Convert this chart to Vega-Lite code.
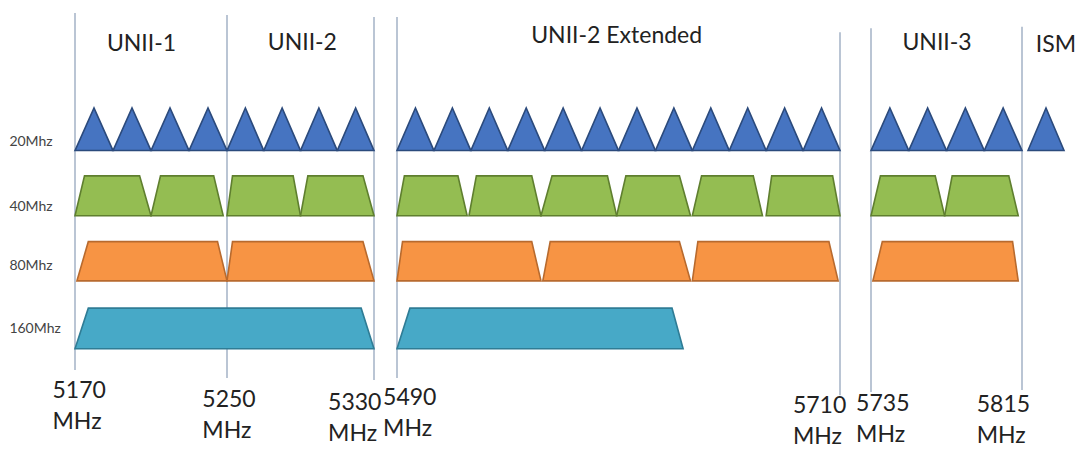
{
  "$schema": "https://vega.github.io/schema/vega-lite/v6.json",
  "width": 1082,
  "height": 449,
  "autosize": {"type": "none"},
  "padding": 0,
  "background": "white",
  "config": {"view": {"stroke": null}, "font": "Lato"},
  "datasets": {
    "lines": [
      {"f": 5170, "y": -1.43, "y2": 3.94},
      {"f": 5250, "y": -1.40, "y2": 4.06},
      {"f": 5330, "y": -1.37, "y2": 4.09},
      {"f": 5490, "y": -1.37, "y2": 4.06},
      {"f": 5730, "y": -1.14, "y2": 4.32},
      {"f": 5735, "y": -1.20, "y2": 4.27},
      {"f": 5815, "y": -1.22, "y2": 4.24}
    ],
    "levels": [
      {"band": "20Mhz", "base": 0.64},
      {"band": "40Mhz", "base": 1.62},
      {"band": "80Mhz", "base": 2.6},
      {"band": "160Mhz", "base": 3.62}
    ],
    "shapes": [
      {"id": "c36", "band": "20Mhz", "f": 5170, "y": 0.64}, {"id": "c36", "band": "20Mhz", "f": 5180, "y": 0}, {"id": "c36", "band": "20Mhz", "f": 5190, "y": 0.64},
      {"id": "c40", "band": "20Mhz", "f": 5190, "y": 0.64}, {"id": "c40", "band": "20Mhz", "f": 5200, "y": 0}, {"id": "c40", "band": "20Mhz", "f": 5210, "y": 0.64},
      {"id": "c44", "band": "20Mhz", "f": 5210, "y": 0.64}, {"id": "c44", "band": "20Mhz", "f": 5220, "y": 0}, {"id": "c44", "band": "20Mhz", "f": 5230, "y": 0.64},
      {"id": "c48", "band": "20Mhz", "f": 5230, "y": 0.64}, {"id": "c48", "band": "20Mhz", "f": 5240, "y": 0}, {"id": "c48", "band": "20Mhz", "f": 5250, "y": 0.64},
      {"id": "c52", "band": "20Mhz", "f": 5250, "y": 0.64}, {"id": "c52", "band": "20Mhz", "f": 5260, "y": 0}, {"id": "c52", "band": "20Mhz", "f": 5270, "y": 0.64},
      {"id": "c56", "band": "20Mhz", "f": 5270, "y": 0.64}, {"id": "c56", "band": "20Mhz", "f": 5280, "y": 0}, {"id": "c56", "band": "20Mhz", "f": 5290, "y": 0.64},
      {"id": "c60", "band": "20Mhz", "f": 5290, "y": 0.64}, {"id": "c60", "band": "20Mhz", "f": 5300, "y": 0}, {"id": "c60", "band": "20Mhz", "f": 5310, "y": 0.64},
      {"id": "c64", "band": "20Mhz", "f": 5310, "y": 0.64}, {"id": "c64", "band": "20Mhz", "f": 5320, "y": 0}, {"id": "c64", "band": "20Mhz", "f": 5330, "y": 0.64},
      {"id": "c100", "band": "20Mhz", "f": 5490, "y": 0.64}, {"id": "c100", "band": "20Mhz", "f": 5500, "y": 0}, {"id": "c100", "band": "20Mhz", "f": 5510, "y": 0.64},
      {"id": "c104", "band": "20Mhz", "f": 5510, "y": 0.64}, {"id": "c104", "band": "20Mhz", "f": 5520, "y": 0}, {"id": "c104", "band": "20Mhz", "f": 5530, "y": 0.64},
      {"id": "c108", "band": "20Mhz", "f": 5530, "y": 0.64}, {"id": "c108", "band": "20Mhz", "f": 5540, "y": 0}, {"id": "c108", "band": "20Mhz", "f": 5550, "y": 0.64},
      {"id": "c112", "band": "20Mhz", "f": 5550, "y": 0.64}, {"id": "c112", "band": "20Mhz", "f": 5560, "y": 0}, {"id": "c112", "band": "20Mhz", "f": 5570, "y": 0.64},
      {"id": "c116", "band": "20Mhz", "f": 5570, "y": 0.64}, {"id": "c116", "band": "20Mhz", "f": 5580, "y": 0}, {"id": "c116", "band": "20Mhz", "f": 5590, "y": 0.64},
      {"id": "c120", "band": "20Mhz", "f": 5590, "y": 0.64}, {"id": "c120", "band": "20Mhz", "f": 5600, "y": 0}, {"id": "c120", "band": "20Mhz", "f": 5610, "y": 0.64},
      {"id": "c124", "band": "20Mhz", "f": 5610, "y": 0.64}, {"id": "c124", "band": "20Mhz", "f": 5620, "y": 0}, {"id": "c124", "band": "20Mhz", "f": 5630, "y": 0.64},
      {"id": "c128", "band": "20Mhz", "f": 5630, "y": 0.64}, {"id": "c128", "band": "20Mhz", "f": 5640, "y": 0}, {"id": "c128", "band": "20Mhz", "f": 5650, "y": 0.64},
      {"id": "c132", "band": "20Mhz", "f": 5650, "y": 0.64}, {"id": "c132", "band": "20Mhz", "f": 5660, "y": 0}, {"id": "c132", "band": "20Mhz", "f": 5670, "y": 0.64},
      {"id": "c136", "band": "20Mhz", "f": 5670, "y": 0.64}, {"id": "c136", "band": "20Mhz", "f": 5680, "y": 0}, {"id": "c136", "band": "20Mhz", "f": 5690, "y": 0.64},
      {"id": "c140", "band": "20Mhz", "f": 5690, "y": 0.64}, {"id": "c140", "band": "20Mhz", "f": 5700, "y": 0}, {"id": "c140", "band": "20Mhz", "f": 5710, "y": 0.64},
      {"id": "c144", "band": "20Mhz", "f": 5710, "y": 0.64}, {"id": "c144", "band": "20Mhz", "f": 5720, "y": 0}, {"id": "c144", "band": "20Mhz", "f": 5730, "y": 0.64},
      {"id": "c149", "band": "20Mhz", "f": 5735, "y": 0.64}, {"id": "c149", "band": "20Mhz", "f": 5745, "y": 0}, {"id": "c149", "band": "20Mhz", "f": 5755, "y": 0.64},
      {"id": "c153", "band": "20Mhz", "f": 5755, "y": 0.64}, {"id": "c153", "band": "20Mhz", "f": 5765, "y": 0}, {"id": "c153", "band": "20Mhz", "f": 5775, "y": 0.64},
      {"id": "c157", "band": "20Mhz", "f": 5775, "y": 0.64}, {"id": "c157", "band": "20Mhz", "f": 5785, "y": 0}, {"id": "c157", "band": "20Mhz", "f": 5795, "y": 0.64},
      {"id": "c161", "band": "20Mhz", "f": 5795, "y": 0.64}, {"id": "c161", "band": "20Mhz", "f": 5805, "y": 0}, {"id": "c161", "band": "20Mhz", "f": 5815, "y": 0.64},
      {"id": "c165", "band": "20Mhz", "f": 5818, "y": 0.64}, {"id": "c165", "band": "20Mhz", "f": 5827, "y": 0}, {"id": "c165", "band": "20Mhz", "f": 5836, "y": 0.64},

      {"id": "g1", "band": "40Mhz", "f": 5170, "y": 1.62}, {"id": "g1", "band": "40Mhz", "f": 5175, "y": 1.02}, {"id": "g1", "band": "40Mhz", "f": 5204, "y": 1.02}, {"id": "g1", "band": "40Mhz", "f": 5210, "y": 1.62},
      {"id": "g2", "band": "40Mhz", "f": 5210, "y": 1.62}, {"id": "g2", "band": "40Mhz", "f": 5215, "y": 1.02}, {"id": "g2", "band": "40Mhz", "f": 5243, "y": 1.02}, {"id": "g2", "band": "40Mhz", "f": 5248, "y": 1.62},
      {"id": "g3", "band": "40Mhz", "f": 5250, "y": 1.62}, {"id": "g3", "band": "40Mhz", "f": 5253, "y": 1.02}, {"id": "g3", "band": "40Mhz", "f": 5286, "y": 1.02}, {"id": "g3", "band": "40Mhz", "f": 5290, "y": 1.62},
      {"id": "g4", "band": "40Mhz", "f": 5290, "y": 1.62}, {"id": "g4", "band": "40Mhz", "f": 5294, "y": 1.02}, {"id": "g4", "band": "40Mhz", "f": 5324, "y": 1.02}, {"id": "g4", "band": "40Mhz", "f": 5330, "y": 1.62},
      {"id": "g5", "band": "40Mhz", "f": 5490, "y": 1.62}, {"id": "g5", "band": "40Mhz", "f": 5494, "y": 1.02}, {"id": "g5", "band": "40Mhz", "f": 5523, "y": 1.02}, {"id": "g5", "band": "40Mhz", "f": 5528, "y": 1.62},
      {"id": "g6", "band": "40Mhz", "f": 5529, "y": 1.62}, {"id": "g6", "band": "40Mhz", "f": 5533, "y": 1.02}, {"id": "g6", "band": "40Mhz", "f": 5563, "y": 1.02}, {"id": "g6", "band": "40Mhz", "f": 5568, "y": 1.62},
      {"id": "g7", "band": "40Mhz", "f": 5568, "y": 1.62}, {"id": "g7", "band": "40Mhz", "f": 5574, "y": 1.02}, {"id": "g7", "band": "40Mhz", "f": 5604, "y": 1.02}, {"id": "g7", "band": "40Mhz", "f": 5609, "y": 1.62},
      {"id": "g8", "band": "40Mhz", "f": 5609, "y": 1.62}, {"id": "g8", "band": "40Mhz", "f": 5614, "y": 1.02}, {"id": "g8", "band": "40Mhz", "f": 5643, "y": 1.02}, {"id": "g8", "band": "40Mhz", "f": 5649, "y": 1.62},
      {"id": "g9", "band": "40Mhz", "f": 5650, "y": 1.62}, {"id": "g9", "band": "40Mhz", "f": 5655, "y": 1.02}, {"id": "g9", "band": "40Mhz", "f": 5683, "y": 1.02}, {"id": "g9", "band": "40Mhz", "f": 5688, "y": 1.62},
      {"id": "g10", "band": "40Mhz", "f": 5690, "y": 1.62}, {"id": "g10", "band": "40Mhz", "f": 5693, "y": 1.02}, {"id": "g10", "band": "40Mhz", "f": 5726, "y": 1.02}, {"id": "g10", "band": "40Mhz", "f": 5730, "y": 1.62},
      {"id": "g11", "band": "40Mhz", "f": 5735, "y": 1.62}, {"id": "g11", "band": "40Mhz", "f": 5740, "y": 1.02}, {"id": "g11", "band": "40Mhz", "f": 5769, "y": 1.02}, {"id": "g11", "band": "40Mhz", "f": 5774, "y": 1.62},
      {"id": "g12", "band": "40Mhz", "f": 5774, "y": 1.62}, {"id": "g12", "band": "40Mhz", "f": 5778, "y": 1.02}, {"id": "g12", "band": "40Mhz", "f": 5808, "y": 1.02}, {"id": "g12", "band": "40Mhz", "f": 5813, "y": 1.62},

      {"id": "o1", "band": "80Mhz", "f": 5171, "y": 2.6}, {"id": "o1", "band": "80Mhz", "f": 5177, "y": 2.01}, {"id": "o1", "band": "80Mhz", "f": 5245, "y": 2.01}, {"id": "o1", "band": "80Mhz", "f": 5250, "y": 2.6},
      {"id": "o2", "band": "80Mhz", "f": 5250, "y": 2.6}, {"id": "o2", "band": "80Mhz", "f": 5253, "y": 2.01}, {"id": "o2", "band": "80Mhz", "f": 5324, "y": 2.01}, {"id": "o2", "band": "80Mhz", "f": 5330, "y": 2.6},
      {"id": "o3", "band": "80Mhz", "f": 5490, "y": 2.6}, {"id": "o3", "band": "80Mhz", "f": 5493, "y": 2.01}, {"id": "o3", "band": "80Mhz", "f": 5563, "y": 2.01}, {"id": "o3", "band": "80Mhz", "f": 5568, "y": 2.6},
      {"id": "o4", "band": "80Mhz", "f": 5569, "y": 2.6}, {"id": "o4", "band": "80Mhz", "f": 5573, "y": 2.01}, {"id": "o4", "band": "80Mhz", "f": 5643, "y": 2.01}, {"id": "o4", "band": "80Mhz", "f": 5649, "y": 2.6},
      {"id": "o5", "band": "80Mhz", "f": 5650, "y": 2.6}, {"id": "o5", "band": "80Mhz", "f": 5653, "y": 2.01}, {"id": "o5", "band": "80Mhz", "f": 5724, "y": 2.01}, {"id": "o5", "band": "80Mhz", "f": 5729, "y": 2.6},
      {"id": "o6", "band": "80Mhz", "f": 5736, "y": 2.6}, {"id": "o6", "band": "80Mhz", "f": 5741, "y": 2.01}, {"id": "o6", "band": "80Mhz", "f": 5810, "y": 2.01}, {"id": "o6", "band": "80Mhz", "f": 5813, "y": 2.6},

      {"id": "b1", "band": "160Mhz", "f": 5170, "y": 3.62}, {"id": "b1", "band": "160Mhz", "f": 5177, "y": 3.01}, {"id": "b1", "band": "160Mhz", "f": 5323, "y": 3.01}, {"id": "b1", "band": "160Mhz", "f": 5330, "y": 3.62},
      {"id": "b2", "band": "160Mhz", "f": 5490, "y": 3.62}, {"id": "b2", "band": "160Mhz", "f": 5497, "y": 3.01}, {"id": "b2", "band": "160Mhz", "f": 5639, "y": 3.01}, {"id": "b2", "band": "160Mhz", "f": 5645, "y": 3.62}
    ],
    "channels": [
      {"ch": "36", "f": 5180}, {"ch": "40", "f": 5200}, {"ch": "44", "f": 5220}, {"ch": "48", "f": 5240},
      {"ch": "52", "f": 5260}, {"ch": "56", "f": 5280}, {"ch": "60", "f": 5300}, {"ch": "64", "f": 5320},
      {"ch": "100", "f": 5500}, {"ch": "104", "f": 5520}, {"ch": "108", "f": 5540}, {"ch": "112", "f": 5560},
      {"ch": "116", "f": 5580}, {"ch": "120", "f": 5600}, {"ch": "124", "f": 5620}, {"ch": "128", "f": 5640},
      {"ch": "132", "f": 5660}, {"ch": "136", "f": 5680}, {"ch": "140", "f": 5700}, {"ch": "144", "f": 5720},
      {"ch": "149", "f": 5745}, {"ch": "153", "f": 5765}, {"ch": "157", "f": 5785}, {"ch": "161", "f": 5805},
      {"ch": "165", "f": 5826}
    ],
    "headers": [
      {"t": "UNII-1", "f": 5205, "y": -0.86},
      {"t": "UNII-2", "f": 5291, "y": -0.87},
      {"t": "UNII-2 Extended", "f": 5609, "y": -0.98},
      {"t": "UNII-3", "f": 5770, "y": -0.87},
      {"t": "ISM", "f": 5832, "y": -0.84}
    ],
    "freqs": [
      {"t": "5170\nMHz", "f": 5158, "y": 4.36},
      {"t": "5250\nMHz", "f": 5237, "y": 4.50},
      {"t": "5330\nMHz", "f": 5305, "y": 4.54},
      {"t": "5490\nMHz", "f": 5393, "y": 4.47},
      {"t": "5710\nMHz", "f": 5704.5, "y": 4.59},
      {"t": "5735\nMHz", "f": 5732.6, "y": 4.56},
      {"t": "5815\nMHz", "f": 5791, "y": 4.57}
    ],
    "rowlabels": [
      {"t": "20Mhz", "f": 5135, "y": 0.51},
      {"t": "40Mhz", "f": 5135, "y": 1.49},
      {"t": "80Mhz", "f": 5135, "y": 2.38},
      {"t": "160Mhz", "f": 5135, "y": 3.32}
    ]
  },
  "encoding": {
    "x": {"field": "f", "type": "quantitative", "axis": null,
      "scale": {"domain": [5130, 5170, 5250, 5330, 5490, 5730, 5735, 5815, 5845], "range": [0, 75, 227, 374, 397, 840, 871, 1022, 1082], "nice": false, "zero": false}},
    "y": {"field": "y", "type": "quantitative", "axis": null,
      "scale": {"domain": [-1.6241, 5.1278], "reverse": true, "nice": false, "zero": false}}
  },
  "layer": [
    {
      "data": {"name": "lines"},
      "mark": {"type": "rule", "stroke": "#A3B2C6", "strokeWidth": 1.5},
      "encoding": {"y2": {"field": "y2"}}
    },
    {
      "data": {"name": "shapes"},
      "transform": [{"lookup": "band", "from": {"data": {"name": "levels"}, "key": "band", "fields": ["base"]}}],
      "mark": {"type": "area", "strokeWidth": 1.6, "strokeJoin": "miter", "opacity": 1, "fillOpacity": 1},
      "encoding": {
        "y": {"field": "y", "type": "quantitative", "stack": null,
          "scale": {"domain": [-1.6241, 5.1278], "reverse": true, "nice": false, "zero": false}},
        "y2": {"field": "base"},
        "detail": {"field": "id", "type": "nominal"},
        "fill": {"field": "band", "type": "nominal", "legend": null,
          "scale": {"domain": ["20Mhz", "40Mhz", "80Mhz", "160Mhz"], "range": ["#4674C1", "#94BD52", "#F79444", "#47A9C7"]}},
        "stroke": {"field": "band", "type": "nominal", "legend": null,
          "scale": {"domain": ["20Mhz", "40Mhz", "80Mhz", "160Mhz"], "range": ["#2B4A7C", "#5F7F2F", "#B86A2E", "#2F7C95"]}}
      }
    },
    {
      "data": {"name": "channels"},
      "mark": {"type": "text", "fontSize": 14, "fill": "#333333", "baseline": "alphabetic", "align": "center"},
      "encoding": {
        "y": {"datum": -0.22, "type": "quantitative",
          "scale": {"domain": [-1.6241, 5.1278], "reverse": true, "nice": false, "zero": false}},
        "text": {"field": "ch"}
      }
    },
    {
      "data": {"name": "headers"},
      "mark": {"type": "text", "fontSize": 23, "fill": "#222222", "baseline": "alphabetic", "align": "center"},
      "encoding": {"text": {"field": "t"}}
    },
    {
      "data": {"name": "freqs"},
      "mark": {"type": "text", "fontSize": 23, "fill": "#222222", "baseline": "alphabetic", "align": "left", "lineBreak": "\n", "lineHeight": 31},
      "encoding": {"text": {"field": "t"}}
    },
    {
      "data": {"name": "rowlabels"},
      "mark": {"type": "text", "fontSize": 14, "fill": "#444444", "baseline": "middle", "align": "left"},
      "encoding": {"text": {"field": "t"}}
    }
  ]
}
